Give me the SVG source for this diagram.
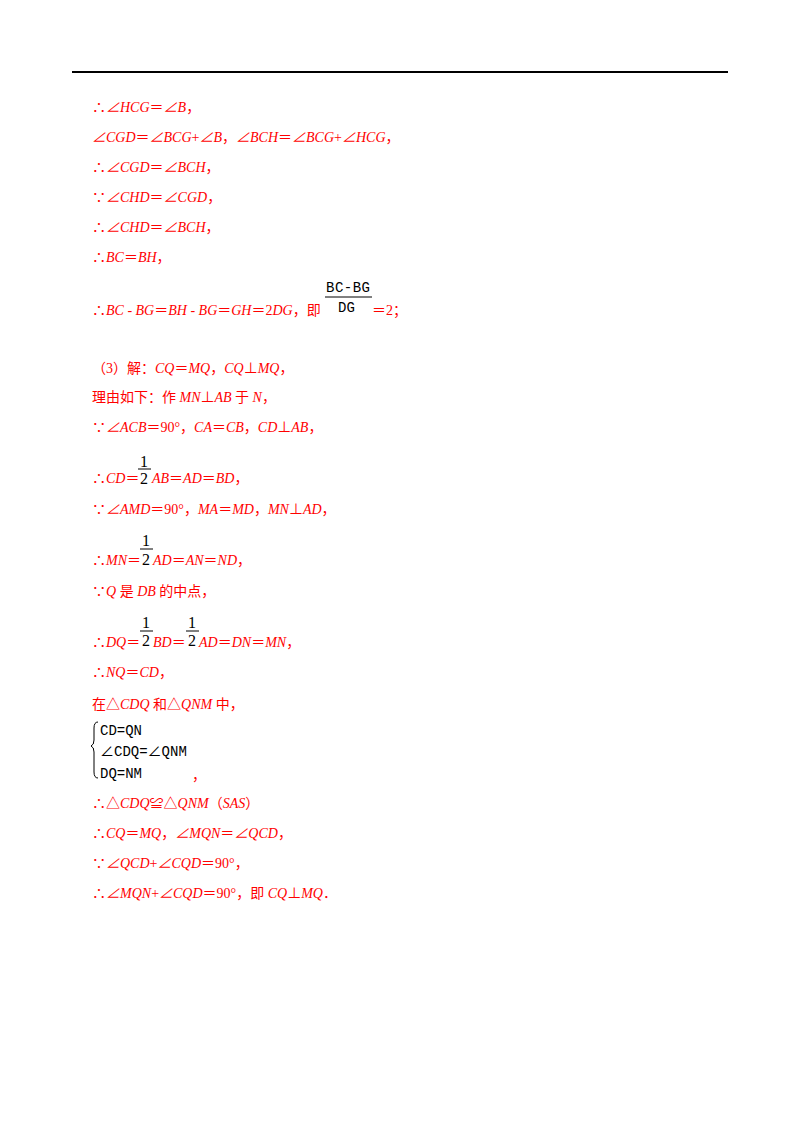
<svg xmlns="http://www.w3.org/2000/svg" width="800" height="1132" viewBox="0 0 800 1132">
<style>
text{font-family:"Liberation Serif","Noto Sans CJK SC",serif;font-size:14px;fill:#ff0000}
.i{font-style:italic}
.k{fill:#000;font-size:16px}
.m{font-family:"Liberation Mono","Noto Sans CJK SC",monospace;fill:#000;font-size:14px}
.b{stroke:#000;stroke-width:1}
</style>
<rect width="800" height="1132" fill="#fff"/>
<line x1="72" y1="72" x2="728" y2="72" stroke="#000" stroke-width="2"/>
<g id="part2">
<text x="92" y="112">∴<tspan class="i">∠HCG</tspan>＝<tspan class="i">∠B</tspan>，</text>
<text x="92" y="142"><tspan class="i">∠CGD</tspan>＝<tspan class="i">∠BCG</tspan>+<tspan class="i">∠B</tspan>，<tspan class="i">∠BCH</tspan>＝<tspan class="i">∠BCG</tspan>+<tspan class="i">∠HCG</tspan>，</text>
<text x="92" y="172">∴<tspan class="i">∠CGD</tspan>＝<tspan class="i">∠BCH</tspan>，</text>
<text x="92" y="202">∵<tspan class="i">∠CHD</tspan>＝<tspan class="i">∠CGD</tspan>，</text>
<text x="92" y="232">∴<tspan class="i">∠CHD</tspan>＝<tspan class="i">∠BCH</tspan>，</text>
<text x="92" y="262">∴<tspan class="i">BC</tspan>＝<tspan class="i">BH</tspan>，</text>
<text x="92" y="315">∴<tspan class="i">BC</tspan> - <tspan class="i">BG</tspan>＝<tspan class="i">BH</tspan> - <tspan class="i">BG</tspan>＝<tspan class="i">GH</tspan>＝2<tspan class="i">DG</tspan>，即</text>
<text class="m" x="326" y="292" textLength="44">BC-BG</text>
<line class="b" x1="325" y1="297" x2="372" y2="297"/>
<text class="m" x="338" y="312">DG</text>
<text x="372" y="315">＝2；</text>
</g>
<g id="part3">
<text x="92" y="373">（3）解：<tspan class="i">CQ</tspan>＝<tspan class="i">MQ</tspan>，<tspan class="i">CQ</tspan>⊥<tspan class="i">MQ</tspan>，</text>
<text x="92" y="402">理由如下：作 <tspan class="i">MN</tspan>⊥<tspan class="i">AB</tspan> 于 <tspan class="i">N</tspan>，</text>
<text x="92" y="432">∵<tspan class="i">∠ACB</tspan>＝90°，<tspan class="i">CA</tspan>＝<tspan class="i">CB</tspan>，<tspan class="i">CD</tspan>⊥<tspan class="i">AB</tspan>，</text>
<text x="92" y="483">∴<tspan class="i">CD</tspan>＝</text>
<text class="k" x="140" y="467">1</text><line class="b" x1="138" y1="469" x2="151" y2="469"/><text class="k" x="140" y="484">2</text>
<text x="152" y="483"><tspan class="i">AB</tspan>＝<tspan class="i">AD</tspan>＝<tspan class="i">BD</tspan>，</text>
<text x="92" y="514">∵<tspan class="i">∠AMD</tspan>＝90°，<tspan class="i">MA</tspan>＝<tspan class="i">MD</tspan>，<tspan class="i">MN</tspan>⊥<tspan class="i">AD</tspan>，</text>
<text x="92" y="565">∴<tspan class="i">MN</tspan>＝</text>
<text class="k" x="142" y="546">1</text><line class="b" x1="140" y1="549" x2="153" y2="549"/><text class="k" x="142" y="565">2</text>
<text x="153" y="565"><tspan class="i">AD</tspan>＝<tspan class="i">AN</tspan>＝<tspan class="i">ND</tspan>，</text>
<text x="92" y="596">∵<tspan class="i">Q</tspan> 是 <tspan class="i">DB</tspan> 的中点，</text>
<text x="92" y="647">∴<tspan class="i">DQ</tspan>＝</text>
<text class="k" x="142" y="628">1</text><line class="b" x1="140" y1="631" x2="153" y2="631"/><text class="k" x="142" y="646">2</text>
<text x="153" y="647"><tspan class="i">BD</tspan>＝</text>
<text class="k" x="188" y="628">1</text><line class="b" x1="186" y1="631" x2="199" y2="631"/><text class="k" x="188" y="646">2</text>
<text x="199" y="647"><tspan class="i">AD</tspan>＝<tspan class="i">DN</tspan>＝<tspan class="i">MN</tspan>，</text>
<text x="92" y="677">∴<tspan class="i">NQ</tspan>＝<tspan class="i">CD</tspan>，</text>
<text x="92" y="709">在△<tspan class="i">CDQ</tspan> 和△<tspan class="i">QNM</tspan> 中，</text>
<path d="M98 722 Q94 722 94 728 L94 740 Q94 745 91 746 Q94 747 94 752 L94 772 Q94 778 98 778" fill="none" stroke="#000" stroke-width="1"/>
<text class="m" x="100" y="735">CD=QN</text>
<text class="m" x="100" y="756">∠CDQ=∠QNM</text>
<text class="m" x="100" y="778">DQ=NM</text>
<text x="192" y="780">，</text>
<text x="92" y="808">∴△<tspan class="i">CDQ</tspan>≌△<tspan class="i">QNM</tspan>（<tspan class="i">SAS</tspan>）</text>
<text x="92" y="838">∴<tspan class="i">CQ</tspan>＝<tspan class="i">MQ</tspan>，<tspan class="i">∠MQN</tspan>＝<tspan class="i">∠QCD</tspan>，</text>
<text x="92" y="868">∵<tspan class="i">∠QCD</tspan>+<tspan class="i">∠CQD</tspan>＝90°，</text>
<text x="92" y="898">∴<tspan class="i">∠MQN</tspan>+<tspan class="i">∠CQD</tspan>＝90°，即 <tspan class="i">CQ</tspan>⊥<tspan class="i">MQ</tspan>．</text>
</g>
</svg>
